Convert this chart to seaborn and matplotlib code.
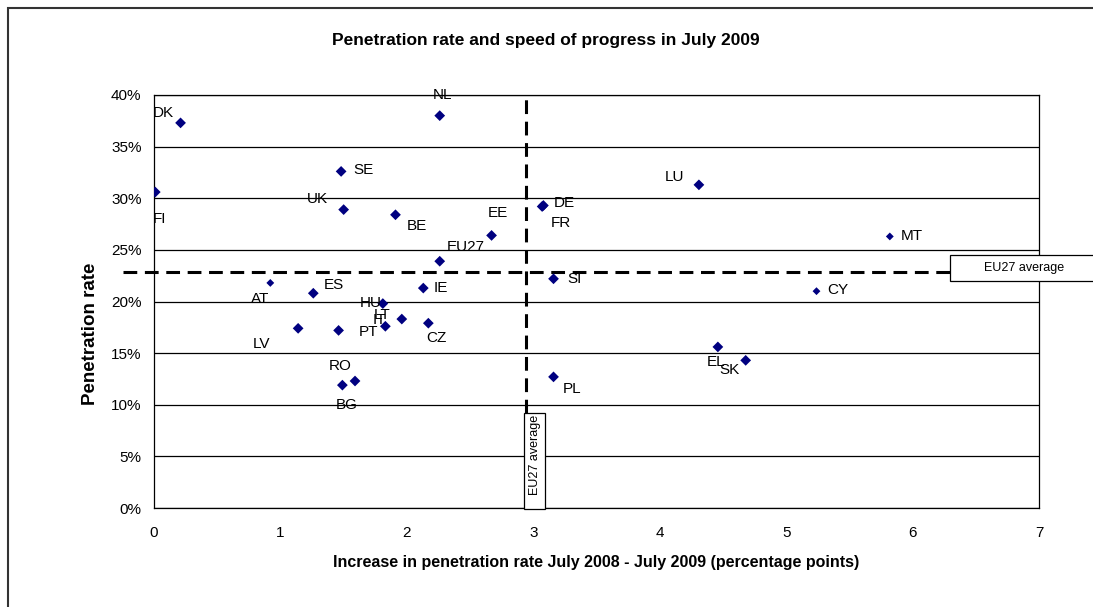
import matplotlib
matplotlib.use("Agg")
import matplotlib.pyplot as plt
import seaborn as sns
import numpy as np
import pandas as pd
from matplotlib.patches import Rectangle

# data
countries = ["DK", "FI", "SE", "UK", "BE", "NL", "AT", "ES", "IE", "HU", "EU27",
             "LV", "PT", "IT", "LT", "CZ", "BG", "RO", "EE", "DE", "FR", "SI",
             "PL", "LU", "MT", "CY", "EL", "SK"]
increase_pp = [0.21, 0.01, 1.48, 1.50, 1.91, 2.26, 0.92, 1.26, 2.13, 1.81, 2.26,
               1.14, 1.46, 1.83, 1.96, 2.17, 1.49, 1.59, 2.67, 3.08, 3.07, 3.16,
               3.16, 4.31, 5.82, 5.24, 4.46, 4.68]
penetration = [37.3, 30.6, 32.6, 28.9, 28.4, 38.0, 21.8, 20.8, 21.3, 19.8, 23.9,
               17.4, 17.2, 17.6, 18.3, 17.9, 11.9, 12.3, 26.4, 29.3, 29.2, 22.2,
               12.7, 31.3, 26.3, 21.0, 15.6, 14.3]
eu_avg_increase = 2.94
eu_avg_rate = 22.9
x_ticks = [0, 1, 2, 3, 4, 5, 6, 7]
y_ticks = [0, 5, 10, 15, 20, 25, 30, 35, 40]

# label placement (pixel offsets from each point), as in the original
label_offsets = {
    "DK": (-17, 10), "FI": (4, -27), "SE": (22, 1), "UK": (-26, 11),
    "BE": (21, -11), "NL": (3, 21), "AT": (-10, -16), "ES": (21, 8),
    "IE": (18, 0), "HU": (-12, 1), "EU27": (26, 14), "LV": (-37, -16),
    "PT": (30, -2), "IT": (-6, 6), "LT": (-20, 4), "CZ": (8, -15),
    "BG": (4, -20), "RO": (-15, 15), "EE": (6, 22), "DE": (21, 2),
    "FR": (19, -16), "SI": (21, 0), "PL": (19, -12), "LU": (-24, 8),
    "MT": (22, 0), "CY": (21, 1), "EL": (-2, -15), "SK": (-16, -10),
}
small_markers = ["AT", "MT", "CY"]

df = pd.DataFrame({"country": countries, "increase": increase_pp, "rate": penetration})
df["msize"] = np.where(df["country"].isin(small_markers), 16, 30)

sns.set_style("white")
plt.rcParams["font.family"] = ["Liberation Sans", "DejaVu Sans"]
plt.rcParams.update({"text.color": "black", "axes.labelcolor": "black",
                     "xtick.color": "black", "ytick.color": "black"})

W, H = 1093, 607
fig = plt.figure(figsize=(W / 100, H / 100), dpi=100)
ax = fig.add_axes([154 / W, 1 - 508 / H, 885 / W, 413 / H])

ax.set_xlim(0, 7)
ax.set_ylim(0, 40)
ax.set_xticks(x_ticks)
ax.set_yticks(y_ticks)
ax.set_yticklabels([f"{v}%" for v in y_ticks])
ax.yaxis.grid(True, color="black", lw=0.9)
ax.set_axisbelow(True)
for sp in ax.spines.values():
    sp.set_color("black")
    sp.set_linewidth(0.9)
ax.tick_params(direction="out", length=5, width=0.9, color="black", labelsize=11)
ax.tick_params(axis="x", pad=8)
ax.tick_params(axis="y", pad=4)

# EU27 average lines
dash = (0, (4.5, 2.5))
ax.vlines(eu_avg_increase, 9.2, 40, colors="black", lw=2.2, linestyles=dash, zorder=2)
ax.hlines(eu_avg_rate, -0.245, 6.30, colors="black", lw=2.2, linestyles=dash,
          zorder=2, clip_on=False)

sns.scatterplot(data=df, x="increase", y="rate", marker="D", color="#000080",
                s=df["msize"].to_numpy(), edgecolor="none", legend=False, ax=ax, zorder=3)

for c, x, y in zip(countries, increase_pp, penetration):
    dx, dy = label_offsets[c]
    ax.annotate(c, (x, y), xytext=(dx, dy), textcoords="offset pixels",
                ha="center", va="center", fontsize=11, color="black", zorder=4)

# boxed "EU27 average" labels at the ends of the average lines
ax.add_patch(Rectangle((eu_avg_increase - 0.01, -0.06), 0.16, 9.28, facecolor="white",
                       edgecolor="black", lw=0.9, clip_on=False, zorder=5))
ax.text(eu_avg_increase + 0.07, 9.0, "EU27 average", rotation=90, ha="center",
        va="top", fontsize=9, zorder=6)
ax.add_patch(Rectangle((6.30, eu_avg_rate - 0.87), 1.6, 2.52, facecolor="white",
                       edgecolor="black", lw=0.9, clip_on=False, zorder=5))
ax.text(6.564, eu_avg_rate + 0.36, "EU27 average", ha="left", va="center",
        fontsize=9, zorder=6, clip_on=False)

ax.set_xlabel("Increase in penetration rate July 2008 - July 2009 (percentage points)",
              fontsize=11.5, fontweight="bold")
ax.set_ylabel("Penetration rate", fontsize=13.5, fontweight="bold")
ax.xaxis.set_label_coords(0.5, -0.114)
ax.yaxis.set_label_coords(-0.062, 0.4225)

fig.text(546 / W, 1 - 40 / H, "Penetration rate and speed of progress in July 2009",
         ha="center", va="center", fontsize=12.5, fontweight="bold")

# outer chart frame (only left and top edges fall inside the picture)
fig.patches.append(Rectangle((8 / W, -0.1), 1.2, 1.1 - 8 / H, transform=fig.transFigure,
                             fill=False, edgecolor="#333333", lw=1.5))

fig.savefig("out.png", dpi=100)
